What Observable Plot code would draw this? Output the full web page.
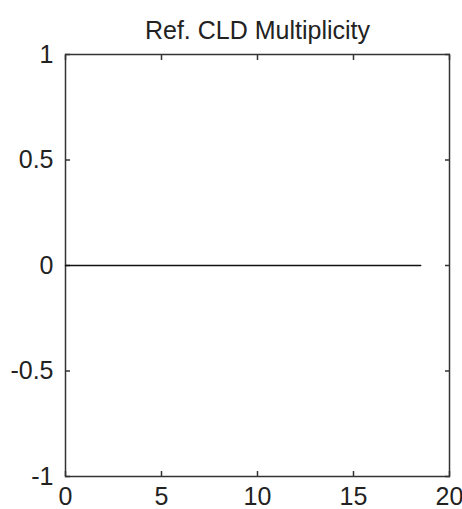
<!DOCTYPE html>
<html>
<head>
<meta charset="utf-8">
<script src="https://cdn.jsdelivr.net/npm/d3@7"></script>
<script src="https://cdn.jsdelivr.net/npm/@observablehq/plot@0.6"></script>
<style>
  html, body { margin: 0; padding: 0; background: #fff; }
</style>
</head>
<body>
<div id="chart"></div>
<script>
const title = "Ref. CLD Multiplicity";
const xValues = [0, 18.5];
const yValues = [0, 0];
const xTicks = [0, 5, 10, 15, 20];
const yTicks = [-1, -0.5, 0, 0.5, 1];

const data = xValues.map((x, i) => ({x, y: yValues[i]}));
const fmt = d => String(d);
const axisColor = "#333";

const chart = Plot.plot({
  width: 462,
  height: 509,
  marginTop: 54,
  marginLeft: 65,
  marginRight: 13,
  marginBottom: 33,
  style: {fontFamily: "'Liberation Sans', Arial, Helvetica, sans-serif", fontSize: "25px", color: "#222", background: "#fff"},
  x: {domain: [0, 20], ticks: xTicks},
  y: {domain: [-1, 1], ticks: yTicks},
  marks: [
    Plot.frame({stroke: axisColor, strokeWidth: 1.5}),
    Plot.axisX(xTicks, {anchor: "bottom", tickSize: -5, tickPadding: 16, tickFormat: fmt, label: null, stroke: axisColor, strokeWidth: 1.5}),
    Plot.axisX(xTicks, {anchor: "top", tickSize: -5, tickFormat: () => "", label: null, stroke: axisColor, strokeWidth: 1.5}),
    Plot.axisY(yTicks, {anchor: "left", tickSize: -5, tickPadding: 17, tickFormat: fmt, label: null, stroke: axisColor, strokeWidth: 1.5}),
    Plot.axisY(yTicks, {anchor: "right", tickSize: -5, tickFormat: () => "", label: null, stroke: axisColor, strokeWidth: 1.5}),
    Plot.line(data, {x: "x", y: "y", stroke: "#111", strokeWidth: 1.5}),
    Plot.text([title], {frameAnchor: "top", dy: -33, fontSize: 25, fill: "#222"})
  ]
});
document.getElementById("chart").appendChild(chart);
</script>
</body>
</html>
